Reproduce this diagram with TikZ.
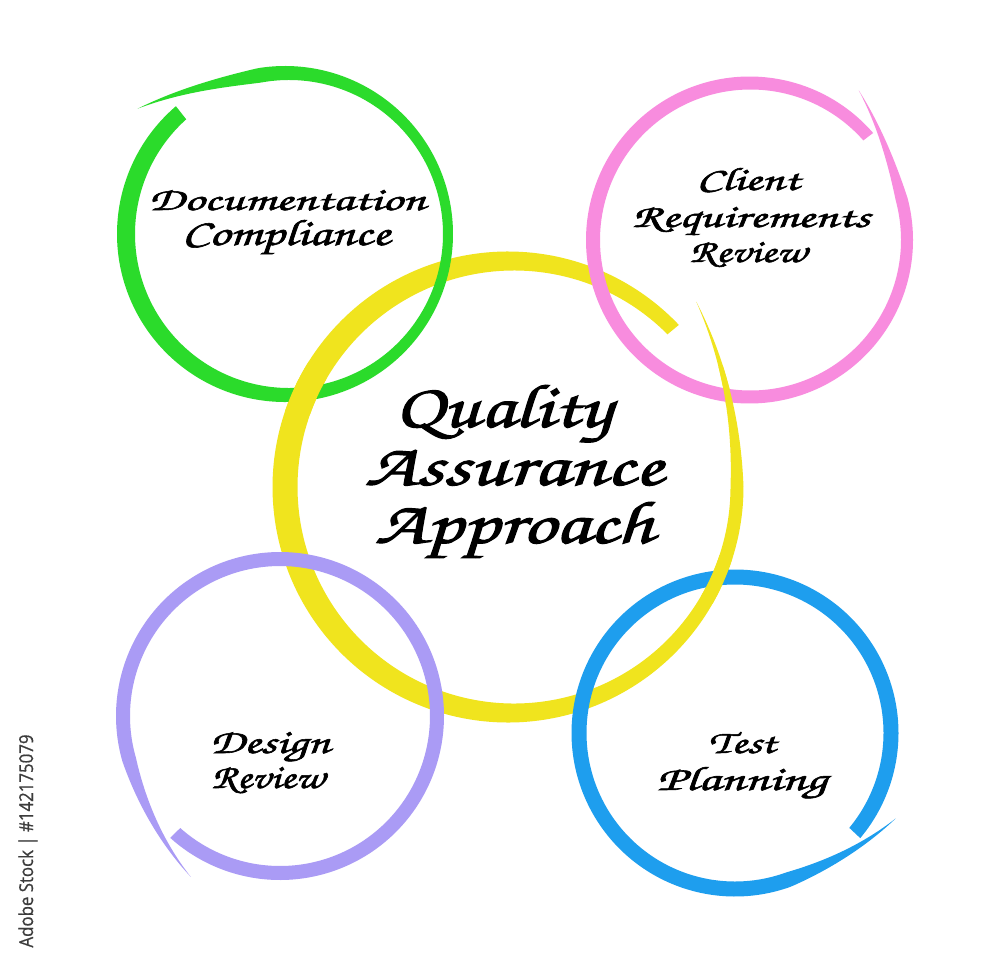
\documentclass[tikz,border=0pt]{standalone}
\usepackage{fontspec}
\newfontfamily\chorus[FakeBold=1.6]{TeX Gyre Chorus}
\newfontfamily\wmfont[FakeBold=0.8]{Open Sans}
\definecolor{rgreen}{RGB}{43,219,43}
\definecolor{rpink}{RGB}{248,140,222}
\definecolor{ryellow}{RGB}{240,228,30}
\definecolor{rpurple}{RGB}{170,155,245}
\definecolor{rblue}{RGB}{30,158,238}
\definecolor{wmgray}{RGB}{60,60,60}
% #1 cx, #2 cy, #3 R, #4 W0, #5 W1, #6 tS, #7 tE, #8 tail span, #9 drift
\newcommand{\brush}[9]{%
 \pgfmathsetmacro\bsM{1-#8/abs(#7-#6)}%
 \def\bang{(#6+\x*(#7-#6))}%
 \def\brad{(#3+#9*(max(0,\x-\bsM)/(1-\bsM))^2)}%
 \def\bhw{(0.5*(#4+#5*cos(#6+\x*(#7-#6)-180))*min(1,(1-\x)/(1-\bsM)))}%
 \fill plot[domain=0:1,samples=300] ({#1+(\brad+\bhw)*cos(\bang)},{#2+(\brad+\bhw)*sin(\bang)})
   -- plot[domain=1:0,samples=300] ({#1+(\brad-\bhw)*cos(\bang)},{#2+(\brad-\bhw)*sin(\bang)}) -- cycle;}
\newcommand{\yellowring}{\brush{511}{487}{226}{19}{6}{-44}{-405}{45}{36}}
\tikzset{
  lbl/.style={anchor=base, inner sep=0pt, text=black},
}
\begin{document}
\begin{tikzpicture}[x=1pt,y=-1pt]
\fill[white] (0,0) rectangle (1000,963);
\useasboundingbox (0,0) rectangle (1000,963);
% rings
\begin{scope}[fill=ryellow]\yellowring\end{scope}
\begin{scope}[fill=rgreen]\brush{287}{234}{161}{14}{4}{229}{-140}{40}{34}\end{scope}
\begin{scope}[fill=rpink]\brush{750}{240}{157}{13}{1}{319}{-54}{39}{28}\end{scope}
\begin{scope}[fill=rpurple]\brush{280}{716}{157}{14}{0}{132}{-241}{45}{27}\end{scope}
\begin{scope}[fill=rblue]\brush{735}{733}{156}{15}{0}{40}{-332}{42}{26}\end{scope}
% yellow on top at some crossings
\begin{scope}[fill=ryellow]\clip (300,388) circle (28); \yellowring\end{scope}
\begin{scope}[fill=ryellow]\clip (727,385) circle (20); \yellowring\end{scope}
\begin{scope}[fill=ryellow]\clip (720,580) circle (25); \yellowring\end{scope}
% labels
\node[lbl] (doc1) at (287,210) {\resizebox{277pt}{20pt}{\chorus Documentation}};
\node[lbl] (doc2) at (286,245) {\resizebox{208pt}{25pt}{\chorus Compliance}};
\node[lbl] (cli1) at (748,190) {\resizebox{103pt}{22pt}{\chorus Client}};
\node[lbl] (cli2) at (751,227) {\resizebox{238pt}{20pt}{\chorus Requirements}};
\node[lbl] (cli3) at (748,262) {\resizebox{117pt}{20pt}{\chorus Review}};
\node[lbl] (qa1) at (503,427) {\resizebox{217pt}{42pt}{\chorus Quality}};
\node[lbl] (qa2) at (514,485) {\resizebox{298pt}{35pt}{\chorus Assurance}};
\node[lbl] (qa3) at (514,543) {\resizebox{278pt}{41pt}{\chorus Approach}};
\node[lbl] (des1) at (270,753) {\resizebox{120pt}{21pt}{\chorus Design}};
\node[lbl] (des2) at (268,788) {\resizebox{113pt}{21pt}{\chorus Review}};
\node[lbl] (tst1) at (742,753) {\resizebox{67pt}{21pt}{\chorus Test}};
\node[lbl] (tst2) at (742,790) {\resizebox{170pt}{23pt}{\chorus Planning}};
% side credit
\node[anchor=base, inner sep=0pt, rotate=90, text=wmgray] (credit) at (33,841)
  {\resizebox{213pt}{14.5pt}{\wmfont Adobe Stock | \#142175079}};
\end{tikzpicture}
\end{document}
